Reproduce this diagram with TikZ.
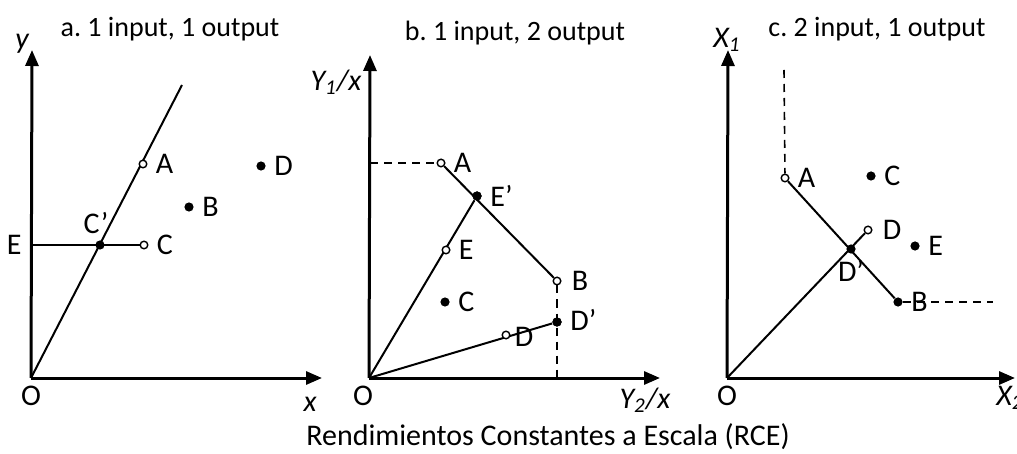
\documentclass[tikz,border=0pt]{standalone}
\usepackage{fontspec}
\setmainfont{Carlito}
\frenchspacing
\usetikzlibrary{arrows.meta,positioning}
\tikzset{
  axisline/.style={line width=1.5pt, -{Triangle[length=8pt,width=6.5pt]}},
  rayline/.style={line width=1pt},
  guideline/.style={line width=0.8pt, dash pattern=on 4pt off 3pt},
  fullpt/.style={circle, fill=black, inner sep=0pt, minimum size=4.6pt},
  openpt/.style={circle, draw=black, fill=white, line width=0.7pt, inner sep=0pt, minimum size=3.8pt},
  ptlabel/.style={font=\fontsize{15}{18}\selectfont, inner sep=1pt},
  axislabel/.style={font=\fontsize{15}{18}\selectfont\itshape, inner sep=0pt},
  paneltitle/.style={font=\fontsize{14}{17}\selectfont}
}

\begin{document}
\begin{tikzpicture}[x=0.5pt, y=-0.5pt]
    \useasboundingbox (0,0) rectangle (1017,454);
    % a. 1 input, 1 output
    \coordinate (Oa) at (31,378);
    \coordinate (ytopa) at (32,50);
    \coordinate (xenda) at (322,378);
    \coordinate (raya) at (182,85);
    \coordinate (Ea) at (32,245);
    \draw[axisline] (Oa) -- (ytopa);
    \draw[axisline] (Oa) -- (xenda);
    \draw[rayline] (Oa) -- (raya);
    \node[openpt] (Ca) at (144,245) {};
    \draw[rayline] (Ea) -- (Ca);
    \node[openpt] (Aa) at (143,164) {};
    \node[fullpt] (Cpa) at (100,245) {};
    \node[fullpt] (Ba) at (189,207) {};
    \node[fullpt] (Da) at (261,166) {};
    \node[ptlabel, right=3pt of Aa] {A};
    \node[ptlabel, right=3pt of Ba] {B};
    \node[ptlabel, right=3pt of Ca] {C};
    \node[ptlabel, right=3pt of Da] {D};
    \node[ptlabel, above=2pt of Cpa, xshift=-2pt] {C’};
    \node[ptlabel, left=4pt of Ea] {E};
    \node[ptlabel] (Oalab) at (31,396) {O};
    \node[axislabel] (ylab) at (22,44) {y};
    \node[axislabel] (xlab) at (310,404) {x};
    \node[paneltitle] (titlea) at (170,29) {a. 1 input, 1 output};

    % b. 1 input, 2 output
    \coordinate (Ob) at (369,378);
    \coordinate (ytopb) at (370,55);
    \coordinate (xendb) at (660,378);
    \coordinate (Ayb) at (370,163);
    \coordinate (Bxb) at (557,378);
    \draw[axisline] (Ob) -- (ytopb);
    \draw[axisline] (Ob) -- (xendb);
    \node[openpt] (Ab) at (441,163) {};
    \node[fullpt] (Epb) at (477,196) {};
    \node[openpt] (Bb) at (557,281) {};
    \node[fullpt] (Dpb) at (557,322) {};
    \draw[guideline] (Ayb) -- (Ab);
    \draw[guideline] (Bb) -- (Bxb);
    \draw[rayline] (Ab) -- (Bb);
    \draw[rayline] (Ob) -- (Epb);
    \draw[rayline] (Ob) -- (Dpb);
    \node[openpt] (Eb) at (446,250) {};
    \node[fullpt] (Cb) at (445,302) {};
    \node[openpt] (Db) at (506,335) {};
    \node[fullpt] at (Epb) {};
    \node[fullpt] at (Dpb) {};
    \node[ptlabel, right=3pt of Ab] {A};
    \node[ptlabel, right=3pt of Epb] {E’};
    \node[ptlabel, right=4pt of Bb] {B};
    \node[ptlabel, right=3pt of Eb] {E};
    \node[ptlabel, right=3pt of Cb] {C};
    \node[ptlabel, right=3pt of Dpb, yshift=1pt] {D’};
    \node[ptlabel, right=1pt of Db, yshift=-1pt] {D};
    \node[ptlabel] (Oblab) at (363,396) {O};
    \node[axislabel] (ylabb) at (336,82) {Y\textsubscript{1}/x};
    \node[axislabel] (xlabb) at (645,400) {Y\textsubscript{2}/x};
    \node[paneltitle] (titleb) at (515,33) {b. 1 input, 2 output};

    % c. 2 input, 1 output
    \coordinate (Oc) at (727,378);
    \coordinate (ytopc) at (728,50);
    \coordinate (xendc) at (1015,378);
    \coordinate (Atopc) at (784,70);
    \coordinate (Bendc) at (993,302);
    \draw[axisline] (Oc) -- (ytopc);
    \draw[axisline] (Oc) -- (xendc);
    \node[openpt] (Ac) at (785,178) {};
    \node[fullpt] (Bc) at (898,302) {};
    \node[openpt] (Dc) at (868,230) {};
    \draw[guideline] (Atopc) -- (Ac);
    \draw[guideline] (Bc) -- (Bendc);
    \draw[rayline] (Ac) -- (Bc);
    \draw[rayline] (Oc) -- (Dc);
    \node[fullpt] (Dpc) at (851,249) {};
    \node[fullpt] (Cc) at (871,176) {};
    \node[fullpt] (Ec) at (915,246) {};
    \node[ptlabel, right=3pt of Ac] {A};
    \node[ptlabel, right=3pt of Bc] {B};
    \node[ptlabel, right=3pt of Cc] {C};
    \node[ptlabel, right=4pt of Dc] {D};
    \node[ptlabel, right=3pt of Ec] {E};
    \node[ptlabel, below=2pt of Dpc] {D’};
    \node[ptlabel] (Oclab) at (727,396) {O};
    \node[axislabel] (ylabc) at (727,40) {X\textsubscript{1}};
    \node[axislabel] (xlabc) at (1010,398) {X\textsubscript{2}};
    \node[paneltitle] (titlec) at (877,29) {c. 2 input, 1 output};

    \node[ptlabel] (caption) at (548,437) {Rendimientos Constantes a Escala (RCE)};
  \end{tikzpicture}
\end{document}
